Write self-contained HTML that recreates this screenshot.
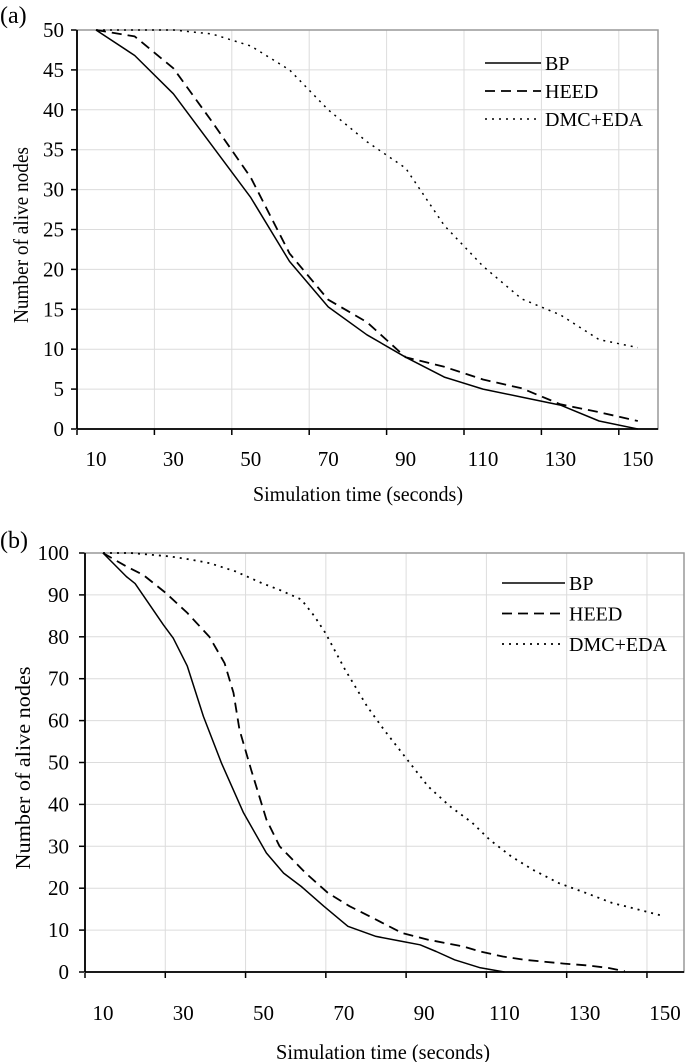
<!DOCTYPE html>
<html><head><meta charset="utf-8"><style>
html,body{margin:0;padding:0;background:#fff;}
svg{display:block;font-family:"Liberation Serif",serif;}
</style></head><body>
<svg id="chart" width="685" height="1062" viewBox="0 0 685 1062" xmlns="http://www.w3.org/2000/svg"></svg>
<script>
// ---- Panel (a) data ----
const aX = [10,20,30,40,50,60,70,80,90,100,110,120,130,140,150];
const aBP = [50,46.8,42,35.5,29,21,15.3,11.8,9,6.5,5,4,3,1,0];
const aHEED = [50,49.2,45.2,38.5,31.5,22,16.2,13.4,9,7.8,6.2,5.1,3.1,2.1,1];
const aDMC = [50,50,50,49.5,48,45,40,36,32.7,25.5,20.4,16.3,14.3,11.2,10.2];
const aYTicks = [0,5,10,15,20,25,30,35,40,45,50];
const xTickLabels = [10,30,50,70,90,110,130,150];
// ---- Panel (b) data ----
const bBPx = [10,15.8,18,21,25,27.5,31,35,39.5,45,50.7,55,59.4,65,71,78,84.5,89,93,97.6,104,110];
const bBPy = [100,94.4,92.7,88.5,82.9,79.7,73,61,49.9,38,28.4,23.6,20.4,15.7,10.9,8.5,7.3,6.5,4.9,2.9,1,0];
const bHEEDx = [10,15.8,20,25.6,31,36.5,40.3,42.5,44,46.9,50.7,54,60.5,66,71.4,78,84.5,91,99.7,104,109.6,115,119.4,124.8,130.3,135.7,140];
const bHEEDy = [100,96.8,94.8,90.5,85.7,80,73.7,66.6,57.8,48.3,36.4,30,23.6,18.9,15.7,12.5,9.3,7.7,6.1,4.9,3.7,2.9,2.5,2,1.6,1,0.2];
const bDMCx = [10,16.9,26.7,32,36.5,43,49.6,54,59.4,62.7,65.4,70.3,75.8,80,84.5,91,96.5,102,106.3,111.7,117.1,123.6,130.2,136.8,143.4,149.9];
const bDMCy = [100,100,99.2,98.4,97.6,95.6,92.8,91.2,88.9,84.9,80.9,72.2,63.4,57.8,52.3,44.3,39.5,35.6,31.6,27.6,24.4,21.2,18.9,16.5,14.9,13.3];
const bYTicks = [0,10,20,30,40,50,60,70,80,90,100];

const NS="http://www.w3.org/2000/svg";
const svg=document.getElementById('chart');
function mk(tag,attrs,parent){const e=document.createElementNS(NS,tag);for(const k in attrs)e.setAttribute(k,attrs[k]);(parent||svg).appendChild(e);return e;}

function panel(cfg){
  const g=mk('g',{});
  
  
  const {L,R,T,B,x0,dx,ymax,yTicks}=cfg;
  const xs=v=>x0+(v-10)*dx;
  const ys=v=>B-(v/ymax)*(B-T);
  for(let k=0;k<8;k++){
    const gx=L+k*20*dx;
    if(k>0){const gl=mk('line',{x1:gx,x2:gx,y1:T,y2:B,stroke:'#dcdcdc','stroke-width':1},g);
    
    }
    const tk=mk('line',{x1:gx,x2:gx,y1:B,y2:B+6,stroke:'#000','stroke-width':1.5},g);
    
    
  }
  yTicks.forEach(v=>{
    const y=ys(v);
    if(v>0&&v<ymax){const gl=mk('line',{x1:L,x2:R,y1:y,y2:y,stroke:'#dcdcdc','stroke-width':1},g);
    
    }
    const tk=mk('line',{x1:L-6,x2:L,y1:y,y2:y,stroke:'#000','stroke-width':1.5},g);
    
    
    const t=mk('text',{x:cfg.yLabR,y:y+7,'text-anchor':'end','font-size':21},g);
    t.textContent=v;
    
    
  });
  xTickLabels.forEach(v=>{
    const t=mk('text',{x:xs(v),y:cfg.xlabY,'text-anchor':'middle','font-size':21},g);
    t.textContent=v;
    
    
  });
  const fr=mk('rect',{x:L,y:T,width:R-L,height:B-T,fill:'none',stroke:'#999','stroke-width':1.5},g);
  
  
  const ax=mk('line',{x1:L,x2:L,y1:T,y2:B,stroke:'#000','stroke-width':1.8},g);
  
  
  const axb=mk('line',{x1:L,x2:R,y1:B,y2:B,stroke:'#000','stroke-width':1.8},g);
  
  
  cfg.series.forEach(s=>{
    const pts=s.x.map((v,i)=>xs(v).toFixed(1)+','+ys(s.y[i]).toFixed(1)).join(' ');
    const p=mk('polyline',{points:pts,fill:'none',stroke:'#000','stroke-width':s.w,'stroke-dasharray':s.dash,'stroke-linejoin':'round'},g);
    
    
  });
  cfg.series.forEach((s,i)=>{
    const ly=cfg.legY+i*cfg.legDy;
    const l=mk('line',{x1:cfg.legX,x2:cfg.legX2,y1:ly,y2:ly,stroke:'#000','stroke-width':s.w,'stroke-dasharray':s.dash},g);
    
    
    const t=mk('text',{x:cfg.legX2+4,y:ly+7,'font-size':20},g);
    t.textContent=s.label;
    
    
  });
  const yt=mk('text',{x:0,y:0,'text-anchor':'middle','font-size':21,textLength:cfg.ytLen,lengthAdjust:'spacingAndGlyphs',transform:`translate(${cfg.ytX},${cfg.ytY}) rotate(-90)`},g);
  yt.textContent='Number of alive nodes';
  
  
  const xt=mk('text',{x:cfg.xtX,y:cfg.xtY,'text-anchor':'middle','font-size':21,textLength:cfg.xtLen,lengthAdjust:'spacingAndGlyphs'},g);
  xt.textContent='Simulation time (seconds)';
  
  
  const pl=mk('text',{x:0,y:cfg.plY,'font-size':24},g);
  pl.textContent=cfg.panel;
  
  
}

panel({name:'chart-a',panel:'(a)',plY:23,L:77,R:658,T:30,B:429,x0:96,dx:3.87,ymax:50,yTicks:aYTicks,xlabY:466,yLabR:64,
  legX:485,legX2:541,legY:63,legDy:28,ytX:28,ytY:235,ytLen:176,xtX:358,xtY:501,xtLen:210,
  series:[{name:'line-bp',label:'BP',x:aX,y:aBP,w:1.5,dash:'none'},
          {name:'line-heed',label:'HEED',x:aX,y:aHEED,w:1.8,dash:'10,6'},
          {name:'line-dmc-eda',label:'DMC+EDA',x:aX,y:aDMC,w:1.5,dash:'2,5'}]});
panel({name:'chart-b',panel:'(b)',plY:548,L:85,R:684,T:553,B:972,x0:103,dx:4.014,ymax:100,yTicks:bYTicks,xlabY:1020,yLabR:69,
  legX:502,legX2:565,legY:583,legDy:30.5,ytX:30,ytY:768,ytLen:203,xtX:383,xtY:1059,xtLen:214,
  series:[{name:'line-bp',label:'BP',x:bBPx,y:bBPy,w:1.5,dash:'none'},
          {name:'line-heed',label:'HEED',x:bHEEDx,y:bHEEDy,w:1.8,dash:'10,6'},
          {name:'line-dmc-eda',label:'DMC+EDA',x:bDMCx,y:bDMCy,w:1.8,dash:'2,5'}]});
</script>
</body></html>
